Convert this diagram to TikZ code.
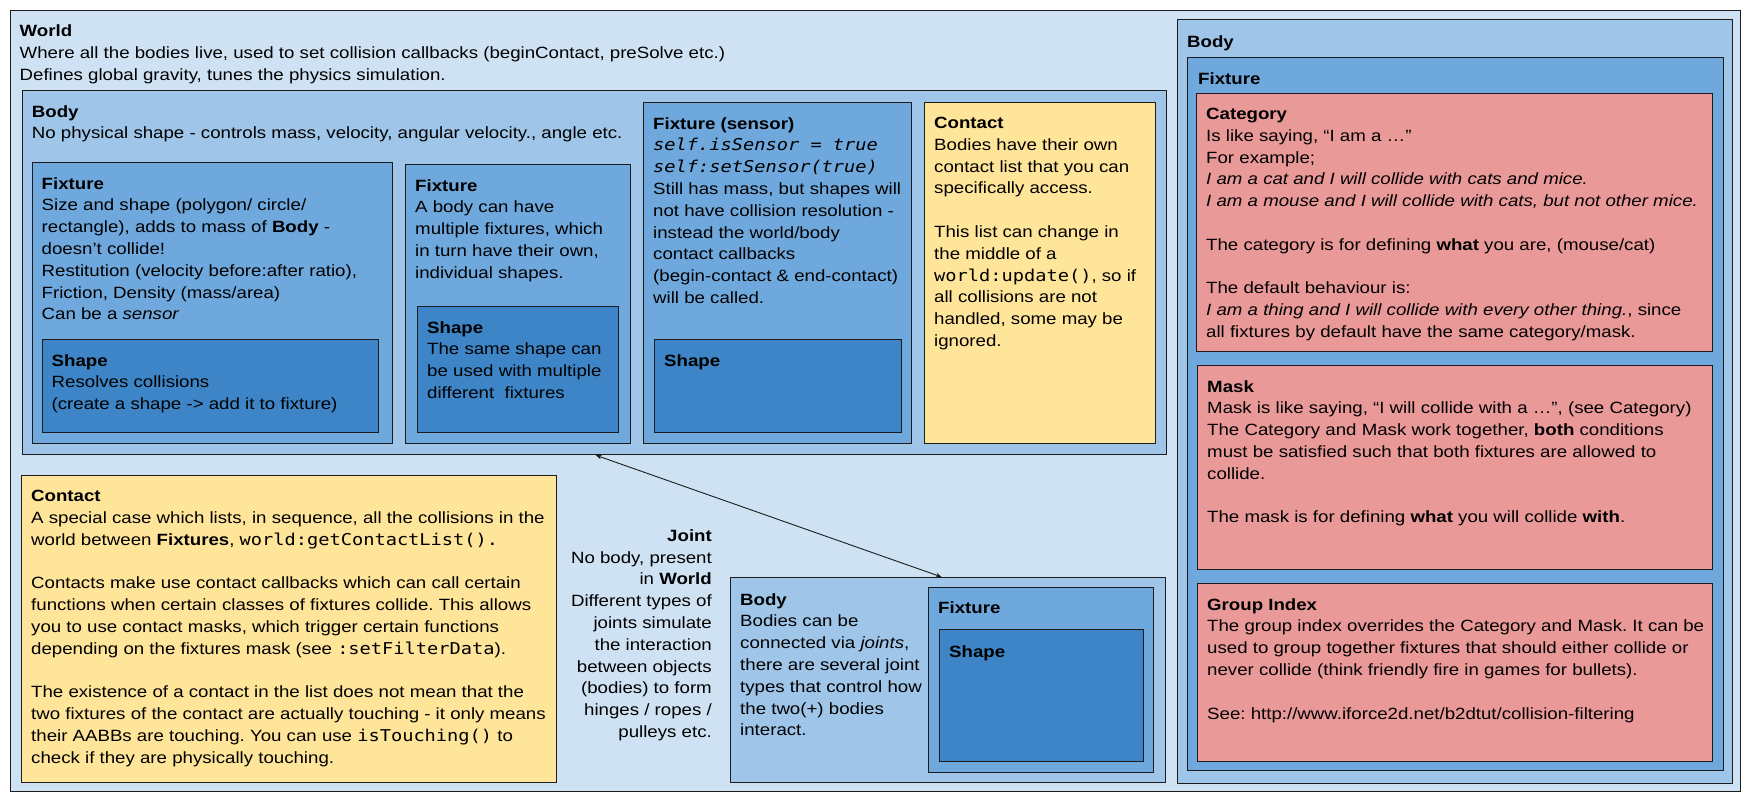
\documentclass[tikz,border=0pt]{standalone}
\usepackage{fontspec}
\setmainfont{Liberation Sans}[FakeStretch=1.145]
\setmonofont{DejaVu Sans Mono}[FakeStretch=1.145]
\usetikzlibrary{arrows.meta,positioning}

\definecolor{edgec}{HTML}{1C1C1C}
\definecolor{worldc}{HTML}{CFE2F3}
\definecolor{bodyc}{HTML}{9FC5E8}
\definecolor{fixc}{HTML}{6FA8DC}
\definecolor{shapec}{HTML}{3D85C6}
\definecolor{contc}{HTML}{FFE599}
\definecolor{filtc}{HTML}{EA9999}
\newcommand\boxfont{\fontsize{16.3}{21.8}\selectfont\frenchspacing}

\begin{document}
\begin{tikzpicture}[x=1pt,y=-1pt,
    box/.style={draw=edgec, line width=1.2pt, anchor=north west, inner sep=0pt, fill=#1},
    txt/.style={inner sep=0pt, align=left, font=\boxfont},
    >={Stealth[length=6pt,width=4.5pt]}]
  \useasboundingbox (0,0) rectangle (1750,803);

  % world
  \node[box=worldc, minimum width=1730.5pt, minimum height=781.5pt] (world) at (9.5,9.5) {};
  \node[txt, below right=15pt and 10pt of world.north west] (world-t)
    {\textbf{World}\\
     Where all the bodies live, used to set collision callbacks (beginContact, preSolve etc.)\\
     Defines global gravity, tunes the physics simulation.};

  % body with its fixtures
  \node[box=bodyc, minimum width=1143.8pt, minimum height=364pt] (lbody) at (21.7,90) {};
  \node[txt, below right=15pt and 10pt of lbody.north west] (lbody-t)
    {\textbf{Body}\\
     No physical shape - controls mass, velocity, angular velocity., angle etc.};

  \node[box=fixc, minimum width=360.5pt, minimum height=281pt] (fixa) at (31.5,162) {};
  \node[txt, below right=15pt and 10pt of fixa.north west] (fixa-t)
    {\textbf{Fixture}\\
     Size and shape (polygon/ circle/\\
     rectangle), adds to mass of \textbf{Body} -\\
     doesn't collide!\\
     Restitution (velocity before:after ratio),\\
     Friction, Density (mass/area)\\
     Can be a \textit{sensor}};
  \node[box=shapec, minimum width=336.5pt, minimum height=93pt] (shapea) at (41.5,339) {};
  \node[txt, below right=15pt and 10pt of shapea.north west] (shapea-t)
    {\textbf{Shape}\\
     Resolves collisions\\
     (create a shape -> add it to fixture)};

  \node[box=fixc, minimum width=225pt, minimum height=279pt] (fixb) at (405,164) {};
  \node[txt, below right=15pt and 10pt of fixb.north west] (fixb-t)
    {\textbf{Fixture}\\
     A body can have\\
     multiple fixtures, which\\
     in turn have their own,\\
     individual shapes.};
  \node[box=shapec, minimum width=201pt, minimum height=126pt] (shapeb) at (417,306) {};
  \node[txt, below right=15pt and 10pt of shapeb.north west] (shapeb-t)
    {\textbf{Shape}\\
     The same shape can\\
     be used with multiple\\
     different\ \ fixtures};

  \node[box=fixc, minimum width=268pt, minimum height=341pt] (fixs) at (643,102) {};
  \node[txt, below right=15pt and 10pt of fixs.north west] (fixs-t)
    {\textbf{Fixture (sensor)}\\
     \textit{\texttt{self.isSensor = true}}\\
     \textit{\texttt{self:setSensor(true)}}\\
     Still has mass, but shapes will\\
     not have collision resolution -\\
     instead the world/body\\
     contact callbacks\\
     (begin-contact \& end-contact)\\
     will be called.};
  \node[box=shapec, minimum width=247pt, minimum height=93pt] (shapes) at (654,339) {};
  \node[txt, below right=15pt and 10pt of shapes.north west] (shapes-t) {\textbf{Shape}};

  \node[box=contc, minimum width=231pt, minimum height=341pt] (conta) at (924,102) {};
  \node[txt, below right=15pt and 10pt of conta.north west] (conta-t)
    {\textbf{Contact}\\
     Bodies have their own\\
     contact list that you can\\
     specifically access.\\[21.8pt]
     This list can change in\\
     the middle of a\\
     \texttt{world:update()}, so if\\
     all collisions are not\\
     handled, some may be\\
     ignored.};

  % filtering on the right
  \node[box=bodyc, minimum width=555pt, minimum height=764pt] (rbody) at (1177,19) {};
  \node[txt, below right=16pt and 10pt of rbody.north west] (rbody-t) {\textbf{Body}};
  \node[box=fixc, minimum width=536pt, minimum height=713pt] (rfix) at (1187,57) {};
  \node[txt, below right=15pt and 11pt of rfix.north west] (rfix-t) {\textbf{Fixture}};

  \node[box=filtc, minimum width=516pt, minimum height=258pt] (cat) at (1196,93) {};
  \node[txt, below right=15pt and 10pt of cat.north west] (cat-t)
    {\textbf{Category}\\
     Is like saying, “I am a …”\\
     For example;\\
     \textit{I am a cat and I will collide with cats and mice.}\\
     \textit{I am a mouse and I will collide with cats, but not other mice.}\\[21.8pt]
     The category is for defining \textbf{what} you are, (mouse/cat)\\[21.8pt]
     The default behaviour is:\\
     \textit{I am a thing and I will collide with every other thing.}, since\\
     all fixtures by default have the same category/mask.};

  \node[box=filtc, minimum width=515pt, minimum height=204pt] (mask) at (1197,365) {};
  \node[txt, below right=15pt and 10pt of mask.north west] (mask-t)
    {\textbf{Mask}\\
     Mask is like saying, “I will collide with a …”, (see Category)\\
     The Category and Mask work together, \textbf{both} conditions\\
     must be satisfied such that both fixtures are allowed to\\
     collide.\\[21.8pt]
     The mask is for defining \textbf{what} you will collide \textbf{with}.};

  \node[box=filtc, minimum width=515pt, minimum height=178pt] (group) at (1197,583) {};
  \node[txt, below right=15pt and 10pt of group.north west] (group-t)
    {\textbf{Group Index}\\
     The group index overrides the Category and Mask. It can be\\
     used to group together fixtures that should either collide or\\
     never collide (think friendly fire in games for bullets).\\[21.8pt]
     See: http://www.iforce2d.net/b2dtut/collision-filtering};

  % world contact list
  \node[box=contc, minimum width=535pt, minimum height=307pt] (contb) at (21,475) {};
  \node[txt, below right=15pt and 10pt of contb.north west] (contb-t)
    {\textbf{Contact}\\
     A special case which lists, in sequence, all the collisions in the\\
     world between \textbf{Fixtures}, \texttt{world:getContactList().}\\[21.8pt]
     Contacts make use contact callbacks which can call certain\\
     functions when certain classes of fixtures collide. This allows\\
     you to use contact masks, which trigger certain functions\\
     depending on the fixtures mask (see \texttt{:setFilterData}).\\[21.8pt]
     The existence of a contact in the list does not mean that the\\
     two fixtures of the contact are actually touching - it only means\\
     their AABBs are touching. You can use \texttt{isTouching()} to\\
     check if they are physically touching.};

  % joint
  \node[txt, align=right, anchor=north east] (joint) at (712,529.3)
    {\textbf{Joint}\\
     No body, present\\
     in \textbf{World}\\
     Different types of\\
     joints simulate\\
     the interaction\\
     between objects\\
     (bodies) to form\\
     hinges / ropes /\\
     pulleys etc.};

  \node[box=bodyc, minimum width=435pt, minimum height=205pt] (bbody) at (730,577) {};
  \node[txt, below right=16pt and 10pt of bbody.north west] (bbody-t)
    {\textbf{Body}\\
     Bodies can be\\
     connected via \textit{joints},\\
     there are several joint\\
     types that control how\\
     the two(+) bodies\\
     interact.};
  \node[box=fixc, minimum width=225pt, minimum height=185pt] (bfix) at (928,587) {};
  \node[txt, below right=14pt and 10pt of bfix.north west] (bfix-t) {\textbf{Fixture}};
  \node[box=shapec, minimum width=204pt, minimum height=132pt] (bshape) at (939,629) {};
  \node[txt, below right=16pt and 10pt of bshape.north west] (bshape-t) {\textbf{Shape}};

  \draw[<->, line width=0.9pt, edgec] ([xshift=574pt]lbody.south west) -- ([xshift=211.7pt]bbody.north west);
\end{tikzpicture}
\end{document}
